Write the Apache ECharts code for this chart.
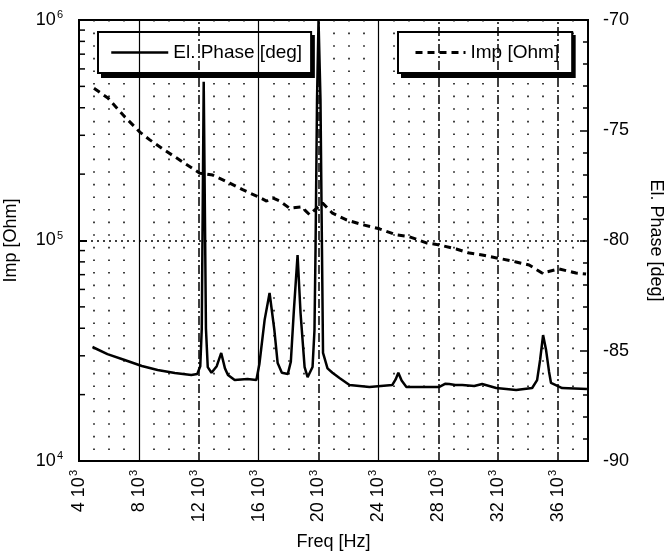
<!DOCTYPE html>
<html>
<head>
<meta charset="utf-8">
<script src="https://cdn.jsdelivr.net/npm/echarts@6/dist/echarts.min.js"></script>
<style>
html, body { margin: 0; padding: 0; background: #fff; }
#main { width: 667px; height: 553px; }
</style>
</head>
<body>
<div id="main"></div>
<script>
// El. Phase [deg] (solid, right axis)
var phaseFreq = [4900, 5900, 7050, 8200, 9250, 10400, 11500, 11900, 12100, 12200, 12270, 12330, 12400, 12480, 12600,
    12850, 13200, 13500, 13750, 13950, 14400, 15250, 15850, 16050, 16400, 16730, 17050, 17270, 17550, 17950,
    18150, 18350, 18600, 18800, 19070, 19270, 19600, 19730, 19800, 19900, 20000, 20130, 20230, 20300, 20600,
    20930, 21400, 22070, 23400, 24930, 25150, 25330, 25550, 25870, 27400, 28070, 28450, 28730, 29130, 29600,
    30400, 30930, 31870, 33200, 34270, 34600, 34800, 35000, 35200, 35400, 35530, 36270, 37930];
var phaseDeg = [-84.83, -85.15, -85.42, -85.69, -85.87, -86.01, -86.10, -86.05, -85.7, -84.0, -78, -72.8, -78, -84.0, -85.74,
    -86.0, -85.7, -85.1, -85.8, -86.1, -86.33, -86.28, -86.33, -85.6, -83.6, -82.38, -84.06, -85.56, -86.0, -86.05,
    -85.5, -83.2, -80.66, -83.3, -85.74, -86.2, -85.74, -84.06, -80.4, -73.6, -70, -73.6, -80.4, -85.1, -85.8,
    -86.0, -86.24, -86.55, -86.64, -86.55, -86.3, -86.0, -86.35, -86.64, -86.64, -86.64, -86.5, -86.51, -86.55, -86.55,
    -86.6, -86.51, -86.69, -86.78, -86.69, -86.33, -85.42, -84.29, -84.97, -85.96, -86.46, -86.69, -86.73];

// Imp [Ohm] (dashed, left log axis)
var impFreq = [5000, 5930, 7070, 8070, 8730, 9600, 10930, 12070, 12930, 14070, 14930, 15870, 16530, 16930, 17400,
    18070, 18870, 19400, 20270, 20930, 21870, 22930, 24070, 25200, 26070, 27200, 28070, 29200, 30070, 30930,
    32270, 33200, 34070, 34930, 36070, 37200, 37870];
var impOhm = [490000, 443000, 363000, 310000, 286000, 260000, 227000, 202000, 198000, 182000, 170000, 159000, 151000, 156000, 151000,
    140000, 142000, 131000, 148000, 133000, 124000, 118000, 113000, 106000, 104000, 97500, 95500, 91500, 87700, 85900,
    82400, 79900, 77400, 71200, 74300, 71200, 70500];

var impMinorTicks = [20000, 30000, 40000, 50000, 60000, 70000, 80000, 90000,
    200000, 300000, 400000, 500000, 600000, 700000, 800000, 900000];
var solidGridFreqs = [8000, 16000, 24000];
var dashGridFreqs = [12000, 20000, 28000, 32000, 36000];

var fontName = 'Liberation Sans';
var phaseLine = { color: '#000', width: 2.5, type: 'solid' };
var impLine = { color: '#000', width: 3, type: [7, 5] };

function pairs(xs, ys) {
    return xs.map(function (x, i) { return [x, ys[i]]; });
}

// legend box with a hard black drop shadow (a black copy sits under it)
function legendBox(name, left, itemWidth, pad, line, isShadow) {
    return {
        data: [name],
        selectedMode: false,
        left: left + (isShadow ? 4 : 0),
        top: 32 + (isShadow ? 4 : 0),
        z: isShadow ? 3 : 4,
        itemWidth: itemWidth,
        itemHeight: 14,
        padding: pad,
        backgroundColor: isShadow ? '#000' : '#fff',
        borderColor: '#000',
        borderWidth: 2,
        borderRadius: 0,
        itemStyle: { color: 'rgba(0,0,0,0)', borderColor: 'rgba(0,0,0,0)', borderWidth: 0 },
        lineStyle: isShadow ? { color: 'rgba(0,0,0,0)', width: 0 } : line,
        textStyle: { fontSize: 19, color: isShadow ? 'rgba(0,0,0,0)' : '#000', fontFamily: fontName }
    };
}

var myChart = echarts.init(document.getElementById('main'));

var gridLines = [];
solidGridFreqs.forEach(function (f) {
    gridLines.push({ xAxis: f, lineStyle: { type: 'solid', width: 1.2, color: '#000' } });
});
dashGridFreqs.forEach(function (f) {
    gridLines.push({ xAxis: f, lineStyle: { type: [9, 3, 2, 3], width: 1.5, color: '#000' } });
});

option = {
    backgroundColor: '#fff',
    animation: false,
    textStyle: { fontFamily: fontName, color: '#000' },
    grid: {
        left: 79,
        right: 79,
        top: 20,
        bottom: 92,
        outerBoundsMode: 'none',
        containLabel: false,
        show: true,
        borderColor: '#000',
        borderWidth: 2
    },
    legend: [
        legendBox('El. Phase [deg]', 98, 57, [11, 9, 11, 12], phaseLine, true),
        legendBox('El. Phase [deg]', 98, 57, [11, 9, 11, 12], phaseLine, false),
        legendBox('Imp [Ohm]', 398, 50, [11, 13, 11, 16], impLine, true),
        legendBox('Imp [Ohm]', 398, 50, [11, 13, 11, 16], impLine, false)
    ],
    xAxis: {
        type: 'value',
        min: 4000,
        max: 38000,
        interval: 4000,
        name: 'Freq [Hz]',
        nameLocation: 'middle',
        nameGap: 72,
        nameTextStyle: { fontSize: 18, color: '#000', verticalAlign: 'top' },
        axisLine: { show: true, lineStyle: { color: '#000', width: 2 } },
        axisTick: { show: false },
        minorTick: { show: false, splitNumber: 4 },
        splitLine: { show: false },
        minorSplitLine: { show: true, lineStyle: { color: '#111', width: 1.6, type: [1.6, 11] } },
        axisLabel: {
            rotate: 90,
            margin: 9,
            showMaxLabel: false,
            color: '#000',
            formatter: function (v) {
                if (v > 36000) return '';
                return '{b|' + (v / 1000) + ' 10}{e|3}';
            },
            rich: {
                b: { fontSize: 18, fontFamily: fontName, color: '#000' },
                e: { fontSize: 11, fontFamily: fontName, color: '#000', padding: [0, 0, 10, 1] }
            }
        }
    },
    yAxis: [{
        type: 'log',
        logBase: 10,
        min: 10000,
        max: 1000000,
        name: 'Imp [Ohm]',
        nameLocation: 'middle',
        nameGap: 59,
        nameRotate: 90,
        nameTextStyle: { fontSize: 18, color: '#000' },
        axisLine: { show: true, lineStyle: { color: '#000', width: 2 } },
        axisTick: { show: true, inside: true, length: 8, lineStyle: { color: '#000', width: 2 } },
        splitLine: { show: true, lineStyle: { color: '#000', width: 1.5, type: [2, 4] } },
        axisLabel: {
            margin: 16,
            color: '#000',
            formatter: function (v) {
                return '{b|10}{e|' + Math.round(Math.log10(v)) + '}';
            },
            rich: {
                b: { fontSize: 18, fontFamily: fontName, color: '#000' },
                e: { fontSize: 11, fontFamily: fontName, color: '#000', padding: [0, 0, 10, 1] }
            }
        }
    }, {
        type: 'value',
        position: 'right',
        min: -90,
        max: -70,
        interval: 5,
        name: 'El. Phase [deg]',
        nameLocation: 'middle',
        nameGap: 59,
        nameRotate: -90,
        nameTextStyle: { fontSize: 18, color: '#000' },
        axisLine: { show: true, lineStyle: { color: '#000', width: 2 } },
        axisTick: { show: true, inside: true, length: 8, lineStyle: { color: '#000', width: 1.5 } },
        minorTick: { show: true, splitNumber: 5, length: 5, lineStyle: { color: '#000', width: 1.5 } },
        splitLine: { show: false },
        axisLabel: { margin: 15, fontSize: 18, color: '#000', fontFamily: fontName }
    }],
    series: [{
        name: 'grid',
        type: 'line',
        data: [],
        silent: true,
        z: 1,
        markLine: {
            silent: true,
            symbol: 'none',
            label: { show: false },
            animation: false,
            data: gridLines
        }
    }, {
        name: 'ticks',
        type: 'custom',
        yAxisIndex: 0,
        silent: true,
        z: 5,
        data: impMinorTicks.map(function (v) { return [4000, v]; }),
        renderItem: function (params, api) {
            var p = api.coord([api.value(0), api.value(1)]);
            return {
                type: 'line',
                shape: { x1: p[0], y1: p[1], x2: p[0] + 6, y2: p[1] },
                style: { stroke: '#000', lineWidth: 1.5 }
            };
        }
    }, {
        name: 'El. Phase [deg]',
        type: 'line',
        yAxisIndex: 1,
        symbol: 'none',
        z: 3,
        lineStyle: phaseLine,
        itemStyle: { color: '#000' },
        data: pairs(phaseFreq, phaseDeg)
    }, {
        name: 'Imp [Ohm]',
        type: 'line',
        yAxisIndex: 0,
        symbol: 'none',
        z: 3,
        lineStyle: impLine,
        itemStyle: { color: '#000' },
        data: pairs(impFreq, impOhm)
    }]
};

if (option && typeof option === "object") {
    myChart.setOption(option, true);
}
</script>
</body>
</html>
